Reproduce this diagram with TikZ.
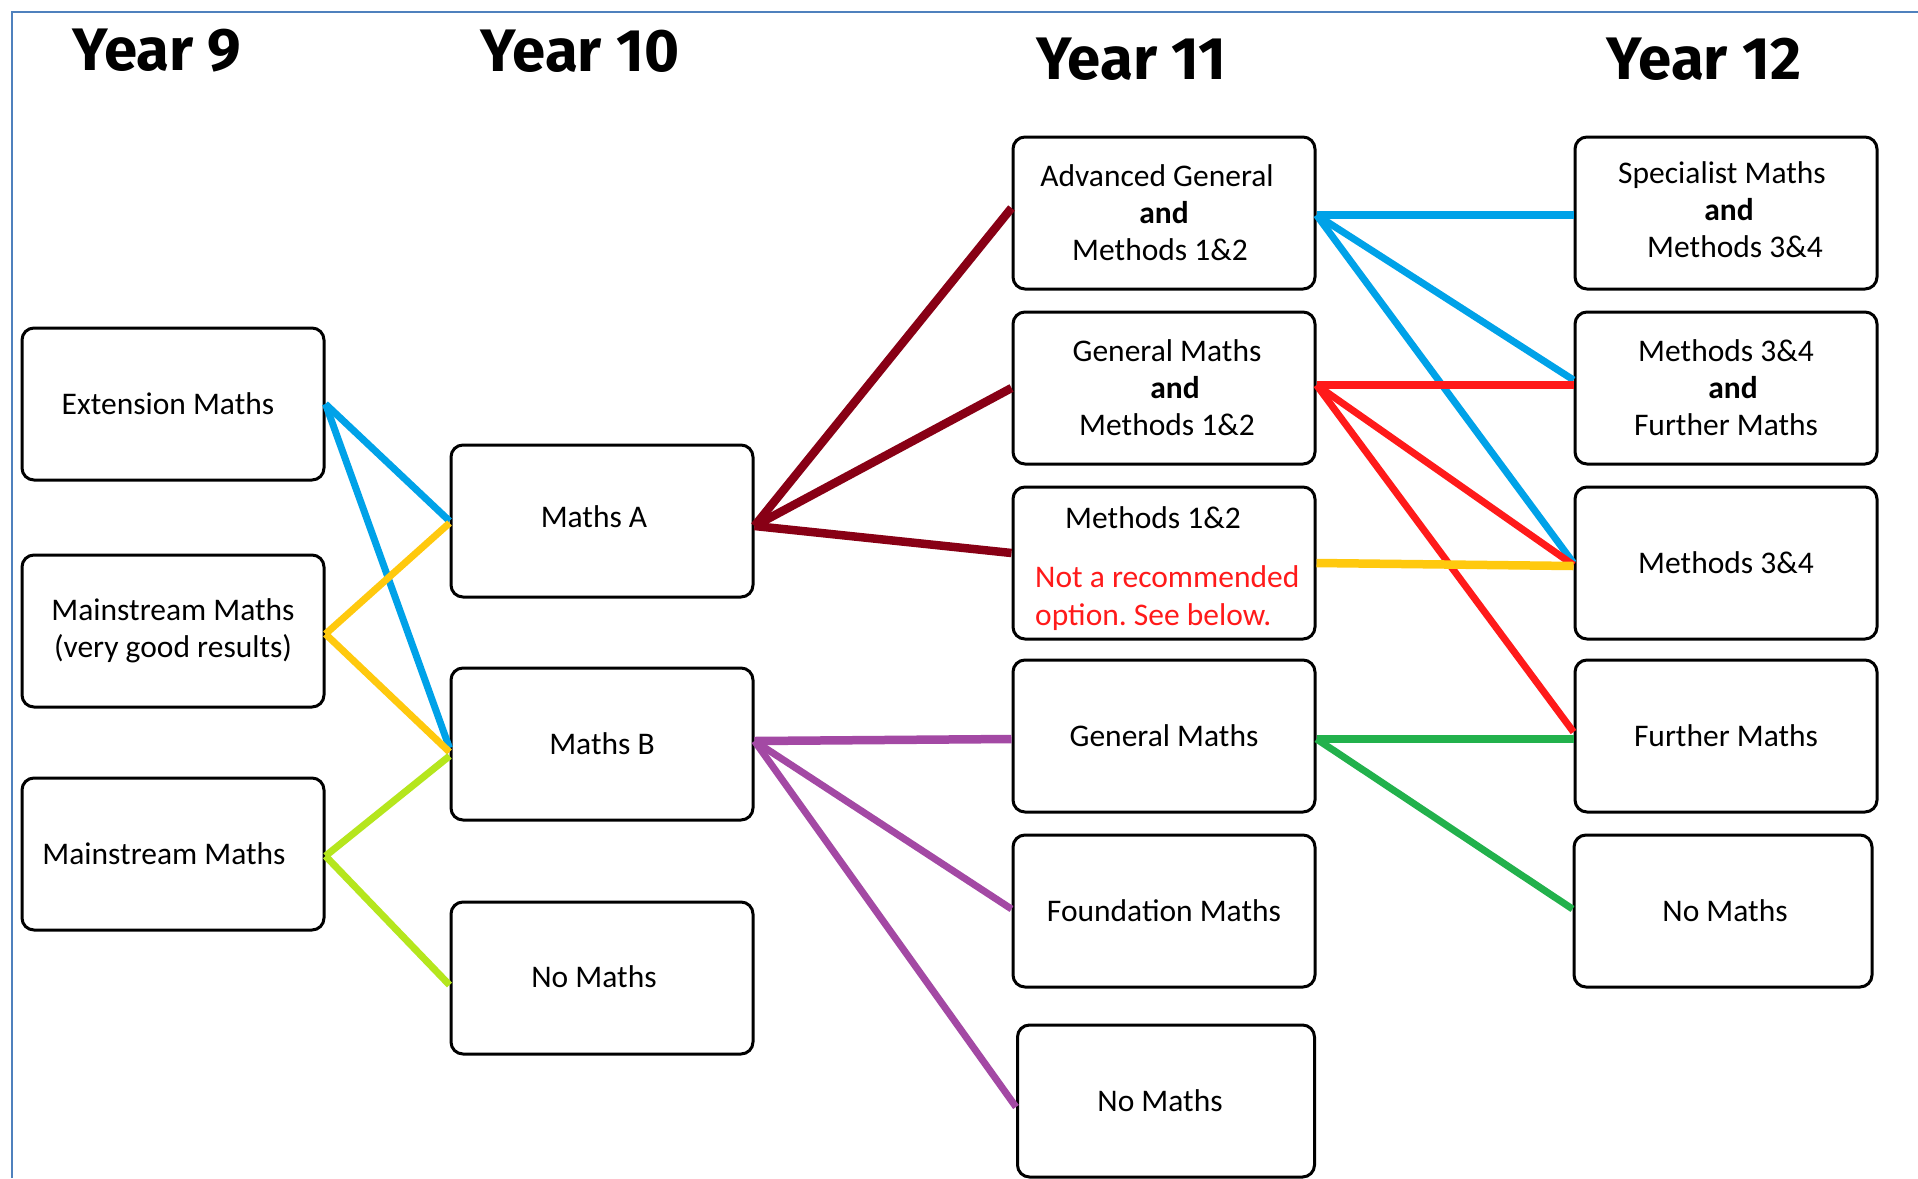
\documentclass[tikz,border=0pt]{standalone}
\usepackage{fontspec}
\setmainfont{Carlito}
\newfontfamily\headfont{Fira Sans}
\definecolor{frameblue}{HTML}{4F81BD}
\definecolor{cblue}{HTML}{00A2E8}
\definecolor{cyellow}{HTML}{FFC90E}
\definecolor{clime}{HTML}{B5E61D}
\definecolor{cdarkred}{HTML}{880015}
\definecolor{cpurple}{HTML}{A349A4}
\definecolor{cred}{HTML}{FF1A1A}
\definecolor{cgreen}{HTML}{22B14C}
\frenchspacing
\begin{document}
\begin{tikzpicture}[x=1pt,y=-1pt,
  box/.style={draw=black, line width=3pt, rounded corners=12pt, minimum width=302pt, minimum height=152pt, align=center, inner sep=0pt, font=\fontsize{31.5}{37}\selectfont},
  head/.style={font=\headfont\bfseries\fontsize{60}{70}\selectfont},
  txt/.style={font=\fontsize{31.5}{37}\selectfont, inner sep=0pt},
  conn/.style={line width=7pt},
  thick conn/.style={line width=8.5pt}]
\useasboundingbox (0,0) rectangle (1918,1178);
\fill[white] (0,0) rectangle (1918,1178);
\draw[frameblue, line width=2pt] (12,1178) -- (12,12) -- (1918,12);

% headers
\node[head] (h9) at (157,51) {Year 9};
\node[head] (h10) at (580,51) {Year 10};
\node[head] (h11) at (1131,59) {Year 11};
\node[head] (h12) at (1704,59) {Year 12};

% Year 9
\node[box] (ext) at (173,404) {\raisebox{-2pt}{Extension Maths\hspace*{10pt}}};
\node[box] (mvg) at (173,631) {Mainstream Maths\\(very good results)};
\node[box] (mm) at (173,854) {\raisebox{-3pt}{Mainstream Maths\hspace*{18pt}}};
% Year 10
\node[box] (ma) at (602,521) {\raisebox{8pt}{Maths A\hspace*{16pt}}};
\node[box] (mb) at (602,744) {Maths B};
\node[box] (nm10) at (602,978) {\raisebox{2pt}{No Maths\hspace*{16pt}}};
% Year 11
\node[box] (ag) at (1164,213) {Advanced General\hspace*{14pt}\\\textbf{and}\hspace*{4pt}\\Methods 1\&2\hspace*{8pt}};
\node[box] (gm12) at (1164,388) {\hspace*{6pt}General Maths\\\hspace*{22pt}\textbf{and}\\\hspace*{6pt}Methods 1\&2};
\node[box] (m12) at (1164,563) {};
\node[txt, anchor=base] (m12t) at (1153,528) {Methods 1\&2};
\node[txt, anchor=base west, text=cred] (m12r1) at (1035,587) {Not a recommended};
\node[txt, anchor=base west, text=cred] (m12r2) at (1035,625) {option. See below.};
\node[box] (gm) at (1164,736) {General Maths};
\node[box] (fm) at (1164,911) {Foundation Maths};
\node[box, minimum width=297pt] (nm11) at (1166,1101) {No Maths\hspace*{12pt}};
% Year 12
\node[box] (sm) at (1726,213) {\raisebox{3pt}{\begin{tabular}{@{}c@{}}Specialist Maths\hspace*{8pt}\\\hspace*{6pt}\textbf{and}\\\hspace*{18pt}Methods 3\&4\end{tabular}}};
\node[box] (mf) at (1726,388) {Methods 3\&4\\\hspace*{14pt}\textbf{and}\\Further Maths};
\node[box] (m34) at (1726,563) {Methods 3\&4};
\node[box] (fur) at (1726,736) {Further Maths};
\node[box, minimum width=298pt] (nm12) at (1723,911) {\hspace*{4pt}No Maths};

% Year 9 -> Year 10
\draw[conn, cblue] (ext.east) -- (ma.west);
\draw[conn, cblue] (ext.east) -- ([yshift=-4pt]mb.west);
\draw[conn, cyellow] ([yshift=-3pt]mvg.east) -- ([yshift=-2pt]ma.west);
\draw[conn, cyellow] ([yshift=-3pt]mvg.east) -- ([yshift=-8pt]mb.west);
\draw[conn, clime] ([yshift=-2pt]mm.east) -- ([yshift=-12pt]mb.west);
\draw[conn, clime] ([yshift=-2pt]mm.east) -- ([yshift=-7pt]nm10.west);

% Year 10 -> Year 11
\draw[thick conn, cdarkred] ([yshift=-5pt]ma.east) -- ([yshift=5pt]ag.west);
\draw[thick conn, cdarkred] ([yshift=-5pt]ma.east) -- (gm12.west);
\draw[thick conn, cdarkred] ([yshift=-5pt]ma.east) -- ([yshift=10pt]m12.west);
\draw[thick conn, cpurple] ([yshift=3pt]mb.east) -- ([yshift=-3pt]gm.west);
\draw[conn, cpurple] ([yshift=3pt]mb.east) -- ([yshift=2pt]fm.west);
\draw[conn, cpurple] ([yshift=3pt]mb.east) -- ([yshift=-6pt]nm11.west);

% Year 11 -> Year 12
\draw[thick conn, cblue] ([yshift=-2pt]ag.east) -- ([yshift=-2pt]sm.west);
\draw[conn, cblue] ([yshift=-2pt]ag.east) -- ([yshift=8pt]mf.west);
\draw[conn, cblue] ([yshift=-2pt]ag.east) -- (m34.west);
\draw[thick conn, cred] ([yshift=3pt]gm12.east) -- ([yshift=3pt]mf.west);
\draw[conn, cred] ([yshift=3pt]gm12.east) -- ([yshift=-2pt]m34.west);
\draw[conn, cred] ([yshift=3pt]gm12.east) -- ([yshift=4pt]fur.west);
\draw[thick conn, cyellow] (m12.east) -- ([yshift=-3pt]m34.west);
\draw[thick conn, cgreen] ([yshift=-3pt]gm.east) -- ([yshift=-3pt]fur.west);
\draw[conn, cgreen] ([yshift=-3pt]gm.east) -- ([yshift=2pt]nm12.west);
\end{tikzpicture}
\end{document}
